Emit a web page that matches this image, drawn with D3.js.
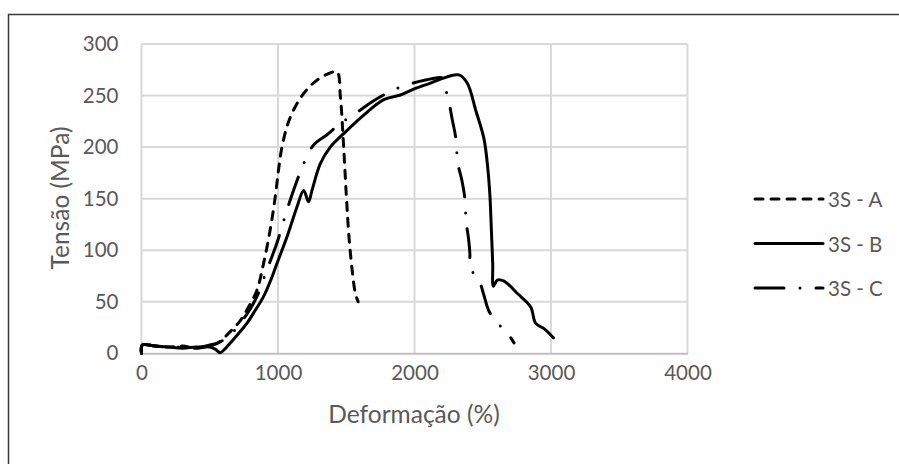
<!DOCTYPE html>
<html>
<head>
<meta charset="utf-8">
<script src="https://cdn.jsdelivr.net/npm/d3@7"></script>
<style>
  html, body { margin: 0; padding: 0; background: #fff; }
  svg { display: block; }
  text { font-family: Lato, "Open Sans", sans-serif; fill: #595959; }
</style>
</head>
<body>
<svg id="chart" width="899" height="464"></svg>
<script>
// Stress–strain curves for three 3S specimens
const seriesNames = ["3S - A", "3S - B", "3S - C"];

const strainA = [0, 5, 100, 200, 300, 400, 500, 560, 650, 720, 772, 845, 894, 943, 980, 1004, 1029, 1066, 1114, 1188, 1286, 1383, 1433, 1457, 1481, 1501, 1520, 1543, 1567, 1587];
const stressA = [0, 8, 7, 6, 7, 5, 7, 10, 21, 31, 42, 61, 87, 120, 152, 178, 200, 220, 236, 252, 265, 272, 273, 249, 200, 152, 113, 81, 58, 50];

const strainB = [0, 5, 100, 200, 300, 400, 500, 540, 576, 610, 650, 710, 772, 830, 894, 950, 992, 1066, 1139, 1188, 1224, 1249, 1310, 1383, 1481, 1628, 1775, 1897, 2007, 2117, 2191, 2325, 2387, 2448, 2509, 2538, 2553, 2563, 2573, 2578, 2607, 2656, 2754, 2851, 2888, 2949, 3018];
const stressB = [0, 8, 7, 6, 5, 6, 6, 4, 0.5, 4, 10, 19, 29, 41, 55, 72, 87, 113, 142, 158, 147, 158, 184, 200, 213, 231, 246, 250.5, 257, 262, 266, 270, 262, 236, 208, 178, 152, 120, 87, 65, 71, 70, 58, 45, 29, 24, 15];

const strainC = [0, 5, 100, 200, 300, 400, 500, 560, 650, 772, 845, 919, 992, 1066, 1127, 1188, 1261, 1359, 1457, 1604, 1701, 1873, 2081, 2203, 2215, 2252, 2276, 2301, 2318, 2345, 2367, 2379, 2396, 2406, 2406, 2472, 2509, 2545, 2607, 2668, 2729];
const stressC = [0, 8, 7, 6, 6, 5, 8, 10, 18, 38, 55, 81, 107, 139, 163, 184, 202, 212, 223, 236, 245, 257, 265, 267, 262, 244, 227, 210, 184, 169, 152, 127, 111, 96, 83, 71, 56, 41, 29, 22, 10];

const xTicks = [0, 1000, 2000, 3000, 4000];
const yTicks = [0, 50, 100, 150, 200, 250, 300];

const xTitle = "Deformação (%)";
const yTitle = "Tensão (MPa)";

const svg = d3.select("#chart");

// Outer chart frame (open to the right and bottom)
svg.append("rect")
  .attr("x", 8.5).attr("y", 14.5)
  .attr("width", 1000).attr("height", 600)
  .attr("fill", "none")
  .attr("stroke", "#3a3a3a")
  .attr("stroke-width", 1.5);

const x = d3.scaleLinear().domain([0, 4000]).range([141.5, 687.5]);
const y = d3.scaleLinear().domain([0, 300]).range([353.3, 44]);

// Gridlines
const grid = svg.append("g");
grid.selectAll("line.h").data(yTicks.filter(d => d > 0)).join("line")
  .attr("x1", x(0)).attr("x2", x(4000))
  .attr("y1", d => y(d)).attr("y2", d => y(d))
  .attr("stroke", "#d9d9d9").attr("stroke-width", 2);
grid.selectAll("line.v").data(xTicks).join("line")
  .attr("x1", d => x(d)).attr("x2", d => x(d))
  .attr("y1", y(0)).attr("y2", y(300))
  .attr("stroke", "#d9d9d9").attr("stroke-width", 2);

// Axes (labels only; the bottom axis keeps its line)
const xAxis = svg.append("g")
  .attr("transform", `translate(0,${y(0)})`)
  .call(d3.axisBottom(x).tickValues(xTicks).tickSize(0).tickPadding(12).tickFormat(d3.format("d")));
xAxis.select(".domain").attr("stroke", "#bfbfbf").attr("stroke-width", 2);
xAxis.selectAll("text").style("font-size", "20.5px").attr("fill", "#595959")
  .style("font-family", "Lato, 'Open Sans', sans-serif");

const yAxis = svg.append("g")
  .attr("transform", `translate(${x(0)},0)`)
  .call(d3.axisLeft(y).tickValues(yTicks).tickSize(0).tickPadding(23).tickFormat(d3.format("d")));
yAxis.select(".domain").remove();
yAxis.selectAll("text").style("font-size", "20.5px").attr("fill", "#595959")
  .style("font-family", "Lato, 'Open Sans', sans-serif");

// Axis titles
svg.append("text")
  .attr("x", 414).attr("y", 413)
  .attr("text-anchor", "middle").attr("dominant-baseline", "central")
  .style("font-size", "24.5px")
  .text(xTitle);
svg.append("text")
  .attr("transform", "translate(59,198) rotate(-90)")
  .attr("text-anchor", "middle").attr("dominant-baseline", "central")
  .style("font-size", "24.5px")
  .text(yTitle);

// Series
const styles = [
  { dash: "8,8" },
  { dash: null },
  { dash: "29,16,0,16" }
];
const seriesData = [
  d3.zip(strainA, stressA),
  d3.zip(strainB, stressB),
  d3.zip(strainC, stressC)
];

const line = d3.line()
  .x(d => x(d[0]))
  .y(d => y(d[1]))
  .curve(d3.curveCatmullRom.alpha(0.5));

const plot = svg.append("g");
seriesData.forEach((pts, i) => {
  plot.append("path")
    .datum(pts)
    .attr("d", line)
    .attr("fill", "none")
    .attr("stroke", "#000")
    .attr("stroke-width", 3)
    .attr("stroke-linecap", "round")
    .attr("stroke-linejoin", "round")
    .attr("stroke-dasharray", styles[i].dash);
});

// Legend
const legendY = [199, 243.5, 288];
const legend = svg.append("g");
seriesNames.forEach((name, i) => {
  legend.append("line")
    .attr("x1", 755).attr("x2", 823)
    .attr("y1", legendY[i]).attr("y2", legendY[i])
    .attr("stroke", "#000").attr("stroke-width", 3)
    .attr("stroke-linecap", "round")
    .attr("stroke-dasharray", styles[i].dash);
  legend.append("text")
    .attr("x", 828).attr("y", legendY[i])
    .attr("dominant-baseline", "central")
    .style("font-size", "20.5px")
    .text(name);
});
</script>
</body>
</html>
